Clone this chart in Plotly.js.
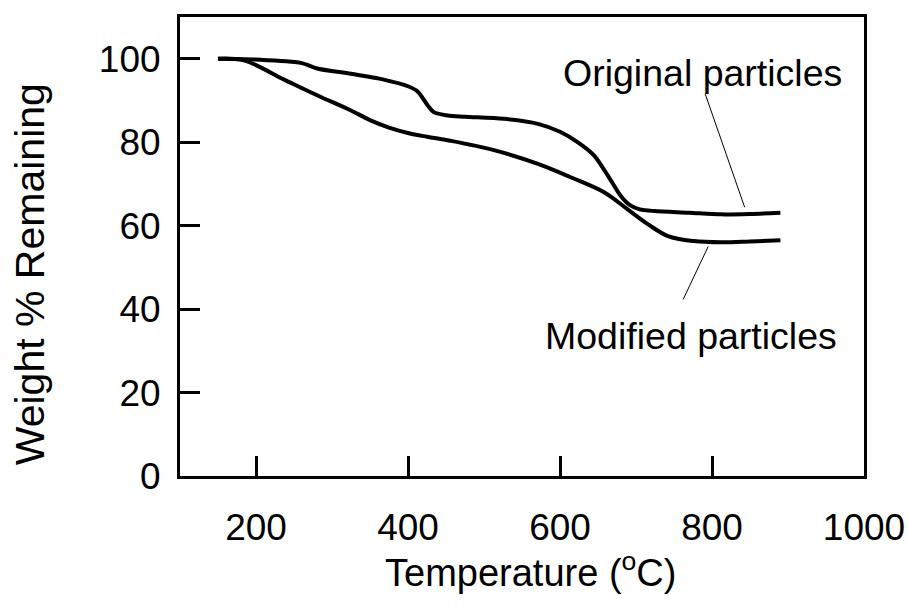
<!DOCTYPE html>
<html>
<head>
<meta charset="utf-8">
<script src="https://cdn.plot.ly/plotly-3.0.1.min.js"></script>
<style>html,body{margin:0;padding:0;background:#fff;}#chart{width:908px;height:608px;}</style>
</head>
<body>
<div id="chart"></div>
<script>
// Original particles (upper curve)
var origTemp = [150, 200, 259, 282, 325, 368, 400, 413, 426, 434, 452, 475, 526, 571, 600, 625, 645, 663, 680, 692, 705, 724, 770, 812, 850, 890];
var origWeight = [100, 99.8, 99.0, 97.6, 96.4, 95.0, 93.4, 92.1, 88.8, 87.2, 86.4, 86.1, 85.6, 84.4, 82.5, 79.8, 76.8, 72.0, 67.1, 64.9, 63.9, 63.5, 63.1, 62.7, 62.8, 63.1];
// Modified particles (lower curve)
var modTemp = [150, 184, 237, 281, 325, 350, 375, 400, 425, 454, 513, 571, 614, 658, 689, 716, 742, 776, 812, 850, 890];
var modWeight = [100, 99.6, 95.0, 91.2, 87.6, 85.3, 83.5, 82.2, 81.3, 80.4, 78.1, 74.8, 71.6, 68.0, 63.9, 60.3, 57.5, 56.3, 56.0, 56.2, 56.5];

var xTicks = [200, 400, 600, 800, 1000];
var yTicks = [0, 20, 40, 60, 80, 100];
var labels = ["Original particles", "Modified particles"];
var labelPos = [[787, 96.5], [772, 33.5]];
var leaderLines = [[791, 91.6, 843, 64.4], [795, 55.0, 762, 42.3]];
var xTitle = "Temperature (<sup>o</sup>C)";
var yTitle = "Weight % Remaining";

var font = "Liberation Sans, Arial, sans-serif";

var traces = [
  {x: origTemp, y: origWeight, mode: "lines", line: {color: "#000", width: 4, shape: "spline", smoothing: 0.8}, hoverinfo: "skip", showlegend: false},
  {x: modTemp, y: modWeight, mode: "lines", line: {color: "#000", width: 4, shape: "spline", smoothing: 1}, hoverinfo: "skip", showlegend: false}
];

var shapes = leaderLines.map(function (l) {
  return {type: "line", xref: "x", yref: "y", x0: l[0], y0: l[1], x1: l[2], y1: l[3], line: {color: "#000", width: 1}};
});
var annotations = labels.map(function (t, i) {
  return {text: t, x: labelPos[i][0], y: labelPos[i][1], xref: "x", yref: "y", showarrow: false,
          font: {family: font, size: 37.5, color: "#000"}, xanchor: "center", yanchor: "middle"};
});
// axis titles placed as paper annotations for exact positioning
annotations.push({text: xTitle, xref: "paper", yref: "paper", x: 0.513, y: -0.205, showarrow: false,
  font: {family: font, size: 38, color: "#000"}, xanchor: "center", yanchor: "middle"});
annotations.push({text: yTitle, xref: "paper", yref: "paper", x: -0.219, y: 0.44, showarrow: false, textangle: -90,
  font: {family: font, size: 41, color: "#000"}, xanchor: "center", yanchor: "middle"});

var layout = {
  width: 908, height: 608,
  margin: {l: 180, r: 44, t: 17, b: 132},
  paper_bgcolor: "#fff", plot_bgcolor: "#fff",
  font: {family: font, size: 38, color: "#000"},
  showlegend: false,
  xaxis: {
    range: [100, 1000], tickvals: xTicks, ticktext: xTicks.map(String),
    ticks: "inside", ticklen: 20, tickwidth: 3, tickcolor: "#000",
    showline: true, linewidth: 3, linecolor: "#000", mirror: true,
    showgrid: false, zeroline: false, ticklabelstandoff: 17,
    tickfont: {family: font, size: 37, color: "#000"}
  },
  yaxis: {
    range: [0, 110], tickvals: yTicks, ticktext: yTicks.map(String),
    ticks: "inside", ticklen: 20, tickwidth: 3, tickcolor: "#000",
    showline: true, linewidth: 3, linecolor: "#000", mirror: true,
    showgrid: false, zeroline: false, ticklabelstandoff: 9,
    tickfont: {family: font, size: 37, color: "#000"}
  },
  shapes: shapes,
  annotations: annotations
};

Plotly.newPlot("chart", traces, layout, {displayModeBar: false, staticPlot: true});
</script>
</body>
</html>
